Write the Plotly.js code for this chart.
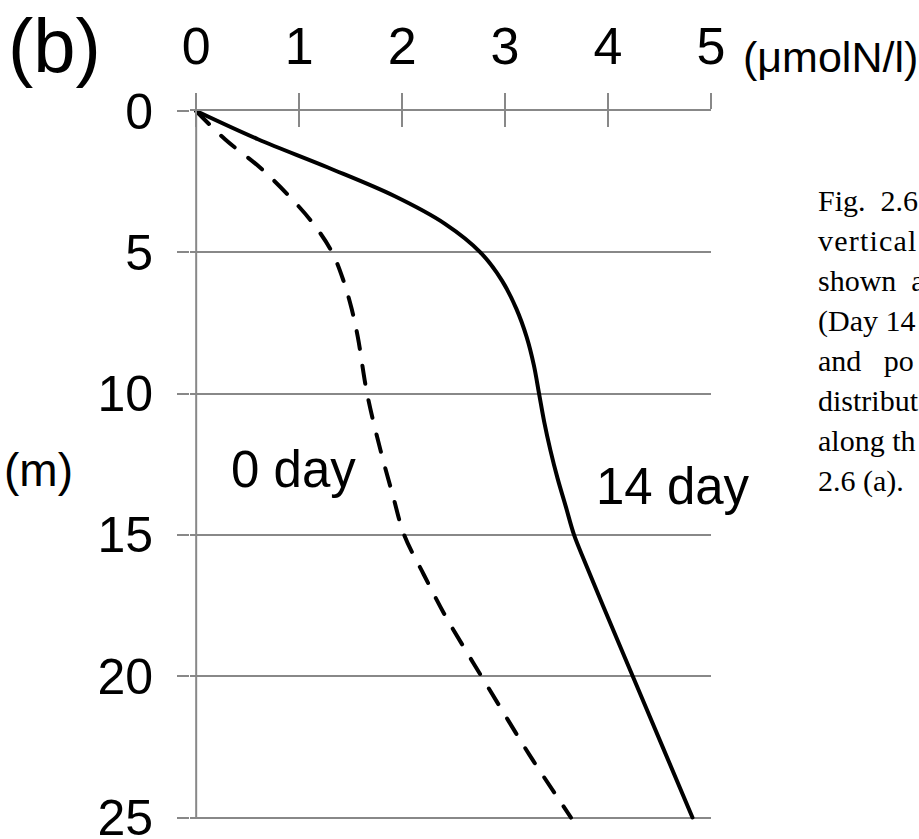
<!DOCTYPE html>
<html>
<head>
<meta charset="utf-8">
<script src="https://cdn.plot.ly/plotly-3.0.1.min.js"></script>
<style>
  html, body { margin: 0; padding: 0; background: #ffffff; }
  #chart { width: 919px; height: 839px; }
  .js-line { stroke-linecap: round; }
</style>
</head>
<body>
<div id="chart"></div>
<script>
// Depth profiles of nitrogen concentration (μmolN/l) against depth (m)
const depth14 = [0, 1, 2, 3, 4, 5, 6, 7, 8, 9, 10, 11, 12, 13, 14, 15, 16, 17.5, 20, 22.5, 25];
const conc14  = [0, 0.60, 1.28, 1.92, 2.42, 2.76, 2.97, 3.11, 3.21, 3.28, 3.33, 3.38, 3.44, 3.51, 3.59, 3.67, 3.78, 3.95, 4.24, 4.53, 4.82];

const depth0 = [0, 1, 2, 3, 4, 5, 6, 7, 8, 10, 12, 13.6, 15, 16.4, 17.8, 19.1, 20, 21.5, 22.8, 25];
const conc0  = [0, 0.28, 0.62, 0.90, 1.14, 1.32, 1.43, 1.51, 1.57, 1.66, 1.79, 1.91, 2.02, 2.21, 2.41, 2.62, 2.77, 3.02, 3.24, 3.64];

const xTicks = [0, 1, 2, 3, 4, 5];
const yTicks = [0, 5, 10, 15, 20, 25];

const NB = '\u00a0';
const captionLines = ['Fig.' + NB + NB + '2.6', '<span style="letter-spacing:1.2px">vertical</span>', 'shown' + NB + NB + 'a',
                      '(Day' + NB + '14', 'and' + NB + NB + NB + 'po', 'distribut', 'along th', '2.6 (a).'];

const W = 919, H = 839;
// axis extents: a little slack below 25 m and left of 0 keeps the edge grid line and the depth axis visible
const X_MIN = -0.06, X_MAX = 5;
const Y_MIN = 0, Y_MAX = 25.3;
const x0px = 196, x5px = 710.7, y0px = 111, y25px = 818;
const unitX = (x5px - x0px) / 5, unitY = (y25px - y0px) / 25;
const M = {
  l: x0px + X_MIN * unitX,
  r: W - x5px,
  t: y0px,
  b: H - y0px - unitY * Y_MAX
};
const plotW = W - M.l - M.r, plotH = H - M.t - M.b;
// pixel position on the page -> paper coordinates
const px = v => (v - M.l) / plotW;
const py = v => 1 - (v - M.t) / plotH;

const GRID = '#888888';
const SANS = 'Liberation Sans, Arial, sans-serif';
const SERIF = 'Liberation Serif, Times New Roman, serif';

const traces = [
  // depth axis line, from the first to the last depth tick
  {
    x: [xTicks[0], xTicks[0]], y: [yTicks[0], yTicks[yTicks.length - 1]], type: 'scatter', mode: 'lines',
    line: { color: GRID, width: 2 }, hoverinfo: 'skip', showlegend: false
  },
  {
    x: conc0, y: depth0, type: 'scatter', mode: 'lines', name: '0 day',
    line: { color: '#000000', width: 4, dash: '18px,17px', shape: 'spline', smoothing: 1 },
    hoverinfo: 'skip'
  },
  {
    x: conc14, y: depth14, type: 'scatter', mode: 'lines', name: '14 day',
    line: { color: '#000000', width: 4, shape: 'spline', smoothing: 1 },
    hoverinfo: 'skip'
  },
  // carries the lower half of the top tick marks
  { x: [0], y: [0], xaxis: 'x2', yaxis: 'y', mode: 'markers', marker: { opacity: 0 }, hoverinfo: 'skip', showlegend: false }
];

const annotations = [
  { text: '(b)', x: px(54), y: py(45), font: { size: 76 } },
  { text: '(m)', x: px(38), y: py(470), font: { size: 46 } },
  { text: '(μmolN/l)', x: px(741), y: py(57), xanchor: 'left', font: { size: 43 } },
  { text: '0 day', x: 0.95, y: 12.7, xref: 'x', yref: 'y', font: { size: 51 } },
  { text: '14 day', x: 4.63, y: 13.3, xref: 'x', yref: 'y', font: { size: 51 } }
].map(a => Object.assign({ xref: 'paper', yref: 'paper', showarrow: false, xanchor: 'center', yanchor: 'middle' }, a,
  { font: Object.assign({ family: SANS, color: '#000000' }, a.font) }));

captionLines.forEach((t, i) => {
  annotations.push({
    text: t, xref: 'paper', yref: 'paper', x: px(816), y: py(201 + i * 40),
    xanchor: 'left', yanchor: 'middle', showarrow: false,
    font: { family: SERIF, size: 30, color: '#000000' }
  });
});

const layout = {
  width: W, height: H,
  margin: M,
  paper_bgcolor: '#ffffff', plot_bgcolor: '#ffffff',
  showlegend: false,
  font: { family: SANS, color: '#000000' },
  xaxis: {
    side: 'top', range: [X_MIN, X_MAX], tickvals: xTicks, ticktext: xTicks.map(String),
    showgrid: false, zeroline: false,
    showline: true, linecolor: GRID, linewidth: 2,
    ticks: 'outside', ticklen: 16, tickwidth: 2, tickcolor: GRID,
    ticklabelstandoff: 8,
    tickfont: { family: SANS, size: 52, color: '#000000' }
  },
  xaxis2: {
    overlaying: 'x', side: 'top', range: [X_MIN, X_MAX], tickvals: xTicks,
    showgrid: false, zeroline: false, showline: false, showticklabels: false,
    ticks: 'inside', ticklen: 16, tickwidth: 2, tickcolor: GRID
  },
  yaxis: {
    range: [Y_MAX, Y_MIN], tickvals: yTicks, ticktext: yTicks.map(String),
    showgrid: true, gridcolor: GRID, gridwidth: 2, zeroline: false,
    showline: false,
    ticks: 'outside', ticklen: 12, tickwidth: 2, tickcolor: GRID,
    ticklabelstandoff: 14, ticklabeloverflow: 'allow',
    tickfont: { family: SANS, size: 50, color: '#000000' }
  },
  annotations: annotations
};

Plotly.newPlot('chart', traces, layout, { staticPlot: true, displayModeBar: false });
</script>
</body>
</html>
